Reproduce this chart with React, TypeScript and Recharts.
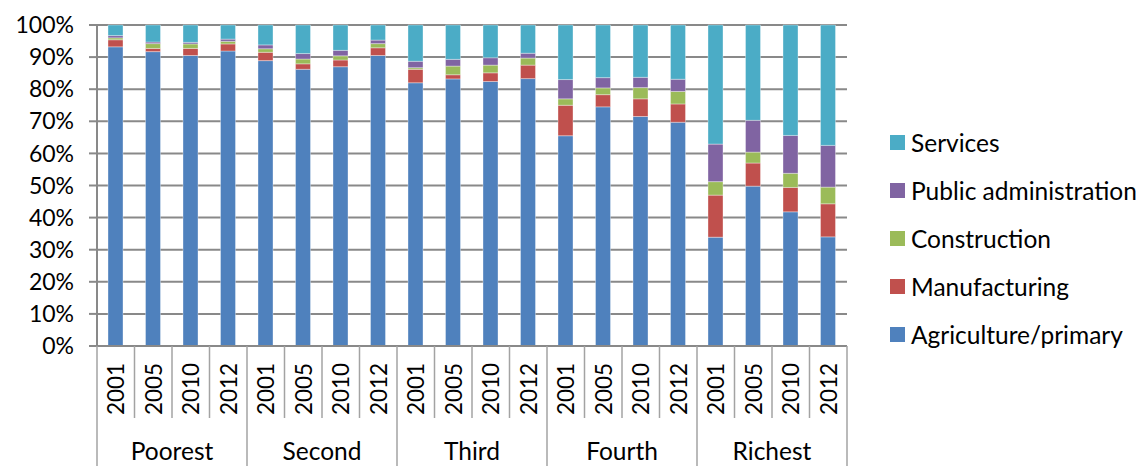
import React from "react";
import { BarChart, Bar, XAxis, YAxis, CartesianGrid, Legend } from "recharts";

const groups = ["Poorest", "Second", "Third", "Fourth", "Richest"];
const years = ["2001", "2005", "2010", "2012"];

const agriculture = [93.2, 91.7, 90.5, 91.9, 88.9, 86.2, 87.0, 90.5, 82.0, 83.2, 82.4, 83.3, 65.5, 74.5, 71.5, 69.7, 33.9, 49.8, 41.8, 34.0];
const manufacturing = [2.2, 1.0, 2.2, 2.2, 2.6, 1.7, 2.1, 2.4, 4.2, 1.3, 2.7, 4.2, 9.5, 3.8, 5.5, 5.7, 13.1, 7.2, 7.6, 10.3];
const construction = [0.6, 1.5, 1.4, 0.8, 1.1, 1.5, 1.3, 1.3, 0.5, 2.7, 2.4, 2.2, 2.0, 2.1, 3.5, 3.9, 4.2, 3.4, 4.4, 5.2];
const publicAdmin = [0.7, 0.5, 0.5, 0.7, 1.2, 1.7, 1.7, 1.1, 2.0, 2.1, 2.3, 1.5, 6.0, 3.2, 3.2, 3.8, 11.7, 9.9, 11.8, 13.0];
const services = [3.3, 5.3, 5.4, 4.4, 6.2, 8.9, 7.9, 4.7, 11.3, 10.7, 10.2, 8.8, 17.0, 16.4, 16.3, 16.9, 37.1, 29.7, 34.4, 37.5];

const yTicks = [0, 10, 20, 30, 40, 50, 60, 70, 80, 90, 100];

const series = [
  { key: "agriculture", name: "Agriculture/primary", color: "#4F81BD" },
  { key: "manufacturing", name: "Manufacturing", color: "#C0504D" },
  { key: "construction", name: "Construction", color: "#9BBB59" },
  { key: "publicAdmin", name: "Public administration", color: "#8064A2" },
  { key: "services", name: "Services", color: "#4BACC6" },
];

const data = groups.flatMap((g, gi) =>
  years.map((yr, yi) => {
    const i = gi * years.length + yi;
    return {
      key: `${g}-${yr}`,
      group: g,
      year: yr,
      agriculture: agriculture[i],
      manufacturing: manufacturing[i],
      construction: construction[i],
      publicAdmin: publicAdmin[i],
      services: services[i],
    };
  })
);

const W = 1142;
const H = 466;
const MARGIN = { top: 25, right: 295, bottom: 0, left: 0 };
const Y_AXIS_W = 97;
const X_AXIS_H = 120;
const PLOT_W = W - MARGIN.left - MARGIN.right - Y_AXIS_W;
const BAND = PLOT_W / data.length;
const FONT = "Lato, 'Open Sans', sans-serif";
const GRID = "#898989";
const SEP = "#a3a3a3";

const XTick = (props: any) => {
  const { x, y, payload } = props;
  const idx = data.findIndex((d) => d.key === payload.value);
  if (idx < 0) return null;
  const d = data[idx];
  const pos = idx % years.length;
  const left = x - BAND / 2;
  const right = x + BAND / 2;
  return (
    <g>
      <line x1={left} x2={left} y1={y} y2={pos === 0 ? y + X_AXIS_H : y + 72} stroke={SEP} strokeWidth={1.5} />
      {idx === data.length - 1 && (
        <line x1={right} x2={right} y1={y} y2={y + X_AXIS_H} stroke={SEP} strokeWidth={1.5} />
      )}
      <text
        x={x}
        y={y + 43}
        transform={`rotate(-90, ${x}, ${y + 43})`}
        textAnchor="middle"
        dominantBaseline="central"
        fontFamily={FONT}
        fontSize={22.5}
        fill="#000"
      >
        {d.year}
      </text>
      {pos === 1 && (
        <text x={right} y={y + 114} textAnchor="middle" fontFamily={FONT} fontSize={24.5} fill="#000">
          {d.group}
        </text>
      )}
    </g>
  );
};

const LegendContent = () => (
  <div style={{ fontFamily: FONT, fontSize: 24.5, color: "#000" }}>
    {[...series].reverse().map((s) => (
      <div key={s.key} style={{ display: "flex", alignItems: "center", height: 48 }}>
        <span style={{ display: "inline-block", width: 15, height: 15, background: s.color, marginRight: 6 }} />
        <span style={{ whiteSpace: "nowrap" }}>{s.name}</span>
      </div>
    ))}
  </div>
);

export default function App() {
  return (
    <div style={{ position: "absolute", left: 0, top: 0, width: W, height: H, background: "#fff", overflow: "hidden" }}>
      <BarChart width={W} height={H} data={data} margin={MARGIN} barSize={15}>
        <CartesianGrid vertical={false} stroke={GRID} strokeWidth={2} />
        <XAxis
          dataKey="key"
          interval={0}
          height={X_AXIS_H}
          tickSize={0}
          tickMargin={0}
          tickLine={false}
          axisLine={{ stroke: GRID, strokeWidth: 2 }}
          tick={<XTick />}
        />
        <YAxis
          width={Y_AXIS_W}
          domain={[0, 100]}
          ticks={yTicks}
          interval={0}
          tickFormatter={(v: number) => `${v}%`}
          tickSize={8}
          tickMargin={15}
          tickLine={{ stroke: GRID, strokeWidth: 2 }}
          axisLine={{ stroke: GRID, strokeWidth: 2 }}
          tick={{ fontFamily: FONT, fontSize: 23, fill: "#000" }}
        />
        <Legend
          layout="vertical"
          align="center"
          verticalAlign="middle"
          content={<LegendContent />}
          wrapperStyle={{ left: 890, top: 118, width: 252, height: 240 }}
        />
        {series.map((s) => (
          <Bar
            key={s.key}
            dataKey={s.key}
            name={s.name}
            stackId="a"
            fill={s.color}
            stroke="#ffffff"
            strokeOpacity={0.35}
            strokeWidth={1}
            isAnimationActive={false}
          />
        ))}
      </BarChart>
    </div>
  );
}
